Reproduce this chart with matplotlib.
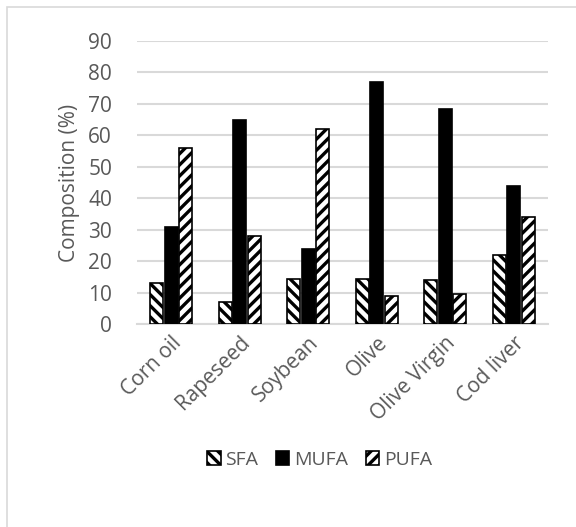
import numpy as np
import matplotlib.pyplot as plt
from matplotlib.patches import Rectangle

oils = ["Corn oil", "Rapeseed", "Soybean", "Olive", "Olive Virgin", "Cod liver"]
sfa = [13.1, 7.0, 14.2, 14.2, 14.0, 22.0]
mufa = [30.8, 64.9, 23.9, 76.9, 68.3, 43.9]
pufa = [56.1, 28.1, 62.0, 9.0, 9.4, 34.0]

TEXT = "#595959"
GRID = "#d9d9d9"

plt.rcParams['font.family'] = ['Open Sans', 'DejaVu Sans']
plt.rcParams['hatch.linewidth'] = 2.4

fig = plt.figure(figsize=(5.76, 5.27), dpi=100)
ax = fig.add_axes([137 / 576, 1 - 324 / 527, 411 / 576, 283 / 527])

x = np.arange(len(oils))
w = 0.19
off = 0.215
ax.bar(x - off, sfa, w, color="white", edgecolor="black", hatch="\\\\\\", lw=1.2, label="SFA", zorder=3)
ax.bar(x, mufa, w, color="black", edgecolor="black", lw=1.2, label="MUFA", zorder=3)
ax.bar(x + off, pufa, w, color="white", edgecolor="black", hatch="///", lw=1.2, label="PUFA", zorder=3)

ax.set_xlim(-0.5, len(oils) - 0.5)
ax.set_ylim(0, 90)
ax.set_yticks(range(0, 91, 10))
ax.yaxis.grid(True, color=GRID, lw=1.5, zorder=0)
ax.set_axisbelow(True)
for s in ["top", "right", "left"]:
    ax.spines[s].set_visible(False)
ax.spines["bottom"].set_color(GRID)
ax.spines["bottom"].set_linewidth(1.5)
ax.tick_params(length=0, colors=TEXT, labelsize=15)
ax.tick_params(axis="y", pad=18)
ax.set_xticks(x)
ax.set_xticklabels(oils, rotation=45, ha="right", rotation_mode="anchor")
ax.tick_params(axis="x", pad=6)
ax.set_ylabel("Composition (%)", color=TEXT, fontsize=15, labelpad=6)

ax.legend(loc="center", bbox_to_anchor=(0.555, 1 - 460 / 527), bbox_transform=fig.transFigure,
          ncol=3, frameon=False, fontsize=14, labelcolor=TEXT, handlelength=0.7,
          handleheight=0.7, handletextpad=0.25, columnspacing=0.9)

fig.patches.append(Rectangle((7 / 576, -0.1), 1.2, 1 - 7 / 527 + 0.1, transform=fig.transFigure,
                             fill=False, edgecolor=GRID, lw=1.2))

fig.savefig("out.png", dpi=100)
